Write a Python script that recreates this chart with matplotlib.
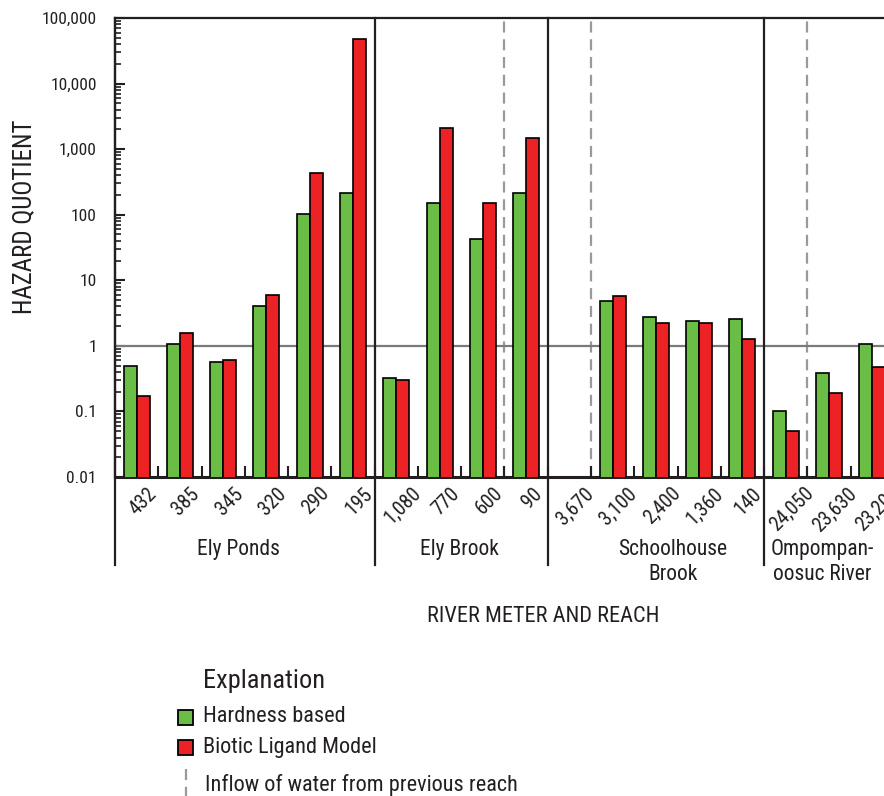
import numpy as np
import matplotlib.pyplot as plt
import matplotlib.transforms as mtransforms
from matplotlib import font_manager
from matplotlib.patches import Rectangle
from matplotlib.lines import Line2D
from matplotlib.ticker import FixedLocator, NullFormatter

# pick a narrow sans face if one is installed (the original uses a condensed face)
names = {f.name for f in font_manager.fontManager.ttflist}
narrow = [f.name for f in font_manager.fontManager.ttflist
          if f.stretch in ('condensed', 'semi-condensed', 'extra-condensed')
          or 'Narrow' in f.name or 'Condensed' in f.name]
family = 'DejaVu Sans'
for cand in ['Liberation Sans Narrow', 'Roboto Condensed', 'Open Sans Condensed',
             'Noto Sans Condensed'] + sorted(set(narrow)):
    if cand in names:
        family = cand
        break
plt.rcParams['font.family'] = [family, 'DejaVu Sans']
plt.rcParams['font.stretch'] = 'condensed'

# river meter (x tick labels), one slot per sample site
river_meters = ['432', '385', '345', '320', '290', '195',
                '1,080', '770', '600', '90',
                '3,670', '3,100', '2,400', '1,360', '140',
                '24,050', '23,630', '23,200']
reaches = ['Ely Ponds', 'Ely Brook', 'Schoolhouse\nBrook', 'Ompompan-\noosuc River']
reach_sizes = [6, 4, 5, 3]
inflow_after = [9, 11, 16]  # slot index where the dashed inflow line sits

hardness = [0.50, 1.06, 0.57, 4.1, 102, 217,
            0.32, 150, 42, 217,
            np.nan, 4.9, 2.74, 2.43, 2.58,
            0.102, 0.38, 1.06]
blm = [0.17, 1.56, 0.60, 5.9, 437, 47400,
       0.30, 2130, 149, 1460,
       np.nan, 5.8, 2.27, 2.27, 1.29,
       0.051, 0.19, 0.47]

green = '#6abd45'
red = '#ed2224'
ink = '#231f20'

W, H = 884, 796
fig = plt.figure(figsize=(W / 100, H / 100), dpi=100)
fig.patch.set_facecolor('white')
ax = fig.add_axes([115 / W, 1 - 477 / H, 769 / W, 459 / H])

n = len(river_meters)
x = np.arange(n) + 0.5
hardness = np.array(hardness)
blm = np.array(blm)
ok = ~np.isnan(hardness)
bw = 0.3

ax.set_yscale('log')
ax.set_ylim(0.01, 100000)
ax.set_xlim(0, 769 / 43.27)

ax.bar(x[ok] - bw / 2, hardness[ok], width=bw, color=green, edgecolor='black',
       linewidth=1.2, zorder=3)
ax.bar(x[ok] + bw / 2, blm[ok], width=bw, color=red, edgecolor='black',
       linewidth=1.2, zorder=3)

# reference line at hazard quotient = 1
ax.axhline(1, color='#7a7a7a', lw=1.6, zorder=2)

trans = mtransforms.blended_transform_factory(ax.transData, ax.transAxes)
ext = -88 / 459

# reach boundaries, extended below the axis
bounds = np.cumsum(reach_sizes)[:-1]
for b in bounds:
    ax.plot([b, b], [ext, 1], transform=trans, color=ink, lw=1.6,
            clip_on=False, zorder=4)
ax.plot([0, 0], [ext, 1], transform=trans, color=ink, lw=1.6,
        clip_on=False, zorder=4)

# inflow lines
for b in inflow_after:
    ax.plot([b, b], [0, 1], transform=trans, color='#9a9a9a', lw=1.6,
            dashes=(5, 3), zorder=1)

# reach names
name_x = [2.85, 7.95, 12.9, 16.35]
for nm, xc in zip(reaches, name_x):
    ax.text(xc, -62 / 459, nm, transform=trans, ha='center', va='top',
            fontsize=15.5, color=ink, linespacing=1.25)

ax.spines['right'].set_visible(False)
ax.spines['left'].set_visible(False)
ax.spines['top'].set_linewidth(1.6)
ax.spines['top'].set_color(ink)
ax.spines['bottom'].set_linewidth(2.2)
ax.spines['bottom'].set_color(ink)

# x ticks: labels at slot centres, small tick marks at slot boundaries
ax.set_xticks(x + 0.14)
ax.set_xticklabels(river_meters, rotation=45, ha='center', va='top',
                   fontsize=14.5, color=ink)
ax.tick_params(axis='x', which='major', length=0, pad=5)
ax.xaxis.set_minor_locator(FixedLocator(np.arange(1, n)))
ax.tick_params(axis='x', which='minor', direction='in', length=8, width=1.5,
               color=ink)

yt = [0.01, 0.1, 1, 10, 100, 1000, 10000, 100000]
ax.set_yticks(yt)
ax.set_yticklabels(['0.01', '0.1', '1', '10', '100', '1,000', '10,000', '100,000'],
                   fontsize=12.5, color=ink)
ax.yaxis.set_minor_locator(FixedLocator(
    [m * 10.0 ** e for e in range(-2, 5) for m in range(2, 10)]))
ax.yaxis.set_minor_formatter(NullFormatter())
ax.tick_params(axis='y', which='major', direction='in', length=7, width=1.5,
               pad=13, color=ink)
ax.tick_params(axis='y', which='minor', direction='in', length=4, width=1.2,
               color=ink)
ax.plot([0, 0], [0, 1], transform=ax.transAxes, color=ink, lw=1.6,
        clip_on=False, zorder=4)

fig.text(24 / W, 1 - 217 / H, 'HAZARD QUOTIENT', rotation=90, ha='center',
         va='center', fontsize=18, color=ink)
fig.text(543 / W, 1 - 617 / H, 'RIVER METER AND REACH', ha='center',
         va='center', fontsize=16, color=ink)

# explanation (legend)
fig.text(203 / W, 1 - 681 / H, 'Explanation', ha='left', va='center',
         fontsize=19, color=ink)
for yc, col, lab in [(717, green, 'Hardness based'),
                     (747, red, 'Biotic Ligand Model')]:
    fig.add_artist(Rectangle((178 / W, 1 - (yc + 7.5) / H), 15 / W, 15 / H,
                             facecolor=col, edgecolor='black', lw=1.3,
                             transform=fig.transFigure))
    fig.text(203 / W, 1 - yc / H, lab, ha='left', va='center',
             fontsize=16, color=ink)
fig.add_artist(Line2D([186 / W, 186 / W], [1 - 769 / H, 1 - 797 / H],
                      color='#9a9a9a', lw=1.6, dashes=(5, 3),
                      transform=fig.transFigure))
fig.text(205 / W, 1 - 785 / H, 'Inflow of water from previous reach',
         ha='left', va='center', fontsize=16, color=ink)

fig.savefig('out.png', dpi=100)
